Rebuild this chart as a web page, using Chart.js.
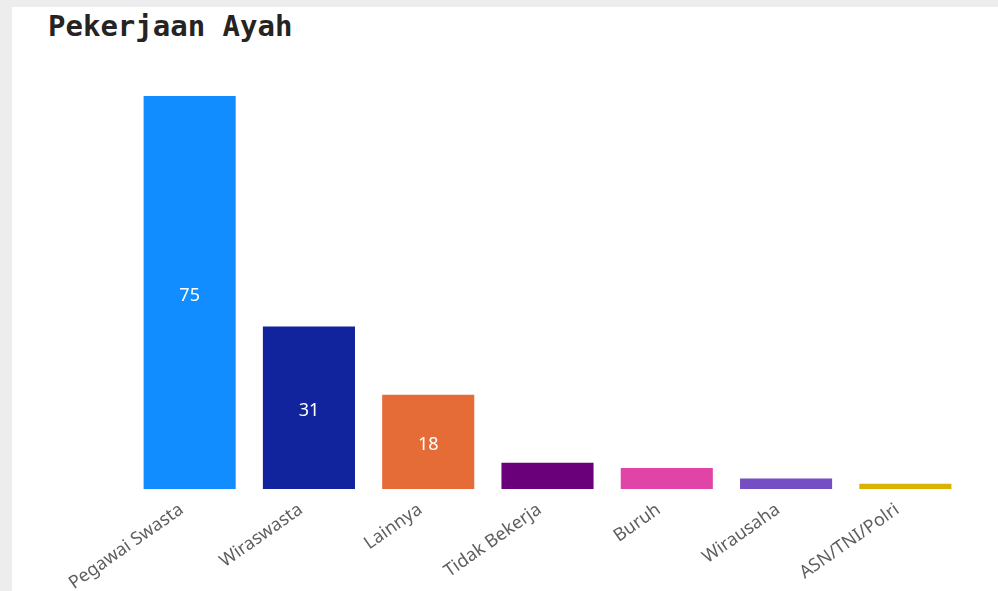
<!DOCTYPE html>
<html>
<head>
<meta charset="utf-8">
<script src="https://cdn.jsdelivr.net/npm/chart.js@4.4.1/dist/chart.umd.min.js"></script>
<style>
  html, body { margin: 0; padding: 0; }
  body { width: 998px; height: 591px; background: #ededed; overflow: hidden; position: relative; }
  #panel { position: absolute; left: 12px; top: 7px; right: 0; bottom: 0; background: #ffffff; }
  #title {
    position: absolute; left: 48px; top: 9px; margin: 0;
    font-family: "DejaVu Sans Mono", monospace; font-weight: bold; font-size: 29px;
    color: #252423;
  }
  #chart-wrap { position: absolute; left: 0; top: 0; width: 998px; height: 591px; }
</style>
</head>
<body>
<div id="panel"></div>
<h2 id="title">Pekerjaan Ayah</h2>
<div id="chart-wrap"><canvas id="pekerjaan-chart" width="998" height="591"></canvas></div>
<script>
const categories = [
  "Pegawai Swasta",
  "Wiraswasta",
  "Lainnya",
  "Tidak Bekerja",
  "Buruh",
  "Wirausaha",
  "ASN/TNI/Polri",
];
const jumlah = [75, 31, 18, 5, 4, 2, 1];
const barColors = [
  "#118DFF",
  "#12239E",
  "#E66C37",
  "#6B007B",
  "#E044A7",
  "#744EC2",
  "#D9B300",
];

// label angka di tengah batang (hanya untuk batang yang cukup tinggi)
const barValueLabels = {
  id: "barValueLabels",
  afterDatasetsDraw(chart) {
    const ctx = chart.ctx;
    const meta = chart.getDatasetMeta(0);
    ctx.save();
    ctx.font = "18px 'Noto Sans', 'Open Sans', sans-serif";
    ctx.fillStyle = "#ffffff";
    ctx.textAlign = "center";
    ctx.textBaseline = "middle";
    meta.data.forEach((bar, i) => {
      const h = bar.base - bar.y;
      if (h < 40) return;
      ctx.fillText(String(jumlah[i]), bar.x, (bar.y + bar.base) / 2 + 3);
    });
    ctx.restore();
  },
};

const ctx = document.getElementById("pekerjaan-chart").getContext("2d");
new Chart(ctx, {
  type: "bar",
  data: {
    labels: categories,
    datasets: [
      {
        label: "Pekerjaan Ayah",
        data: jumlah,
        backgroundColor: barColors,
        borderWidth: 0,
        barPercentage: 0.772,
        categoryPercentage: 1.0,
      },
    ],
  },
  options: {
    responsive: false,
    animation: false,
    layout: {
      padding: { left: 130, right: 33, top: 96, bottom: 0 },
    },
    plugins: {
      legend: { display: false },
      tooltip: { enabled: false },
      title: { display: false },
    },
    scales: {
      x: {
        grid: { display: false },
        border: { display: false },
        ticks: {
          color: "#605E5C",
          font: { family: "'Noto Sans', 'Open Sans', sans-serif", size: 18 },
          minRotation: 35,
          maxRotation: 35,
          padding: 2,
          labelOffset: -8,
        },
        afterFit(scale) {
          scale.height = 102;
        },
      },
      y: {
        display: false,
        min: 0,
        max: 75,
      },
    },
  },
  plugins: [barValueLabels],
});
</script>
</body>
</html>
